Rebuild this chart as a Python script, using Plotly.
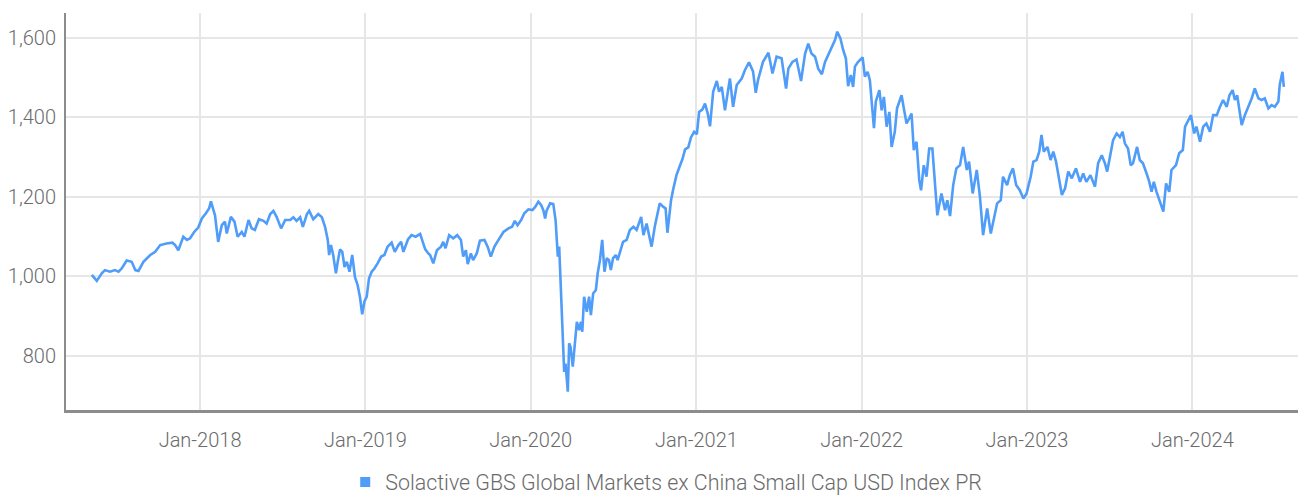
import plotly.graph_objects as go

series_name = "Solactive GBS Global Markets ex China Small Cap USD Index PR"

dates = [
"2017-05-07","2017-05-18","2017-05-29","2017-06-05","2017-06-16","2017-06-27","2017-07-05","2017-07-12","2017-07-23","2017-08-03",
"2017-08-11","2017-08-18","2017-08-29","2017-09-13","2017-09-24","2017-10-05","2017-10-19","2017-11-01","2017-11-07","2017-11-14",
"2017-11-25","2017-12-03","2017-12-10","2017-12-19","2017-12-28","2018-01-05","2018-01-14","2018-01-21","2018-01-25","2018-02-03",
"2018-02-10","2018-02-18","2018-02-25","2018-03-01","2018-03-10","2018-03-18","2018-03-25","2018-04-03","2018-04-09","2018-04-18",
"2018-04-25","2018-05-02","2018-05-11","2018-05-21","2018-05-28","2018-06-05","2018-06-12","2018-06-19","2018-06-29","2018-07-08",
"2018-07-19","2018-07-26","2018-08-02","2018-08-10","2018-08-16","2018-08-25","2018-08-30","2018-09-08","2018-09-19","2018-09-27",
"2018-10-04","2018-10-10","2018-10-13","2018-10-17","2018-10-22","2018-10-28","2018-11-01","2018-11-06","2018-11-11","2018-11-16",
"2018-11-21","2018-11-27","2018-12-03","2018-12-09","2018-12-15","2018-12-20","2018-12-25","2018-12-30","2019-01-04","2019-01-09",
"2019-01-15","2019-01-21","2019-01-28","2019-02-05","2019-02-12","2019-02-19","2019-02-28","2019-03-07","2019-03-15","2019-03-21",
"2019-03-26","2019-04-05","2019-04-13","2019-04-22","2019-05-02","2019-05-07","2019-05-13","2019-05-20","2019-05-24","2019-05-31",
"2019-06-08","2019-06-17","2019-06-22","2019-06-27","2019-07-05","2019-07-14","2019-07-23","2019-07-31","2019-08-05","2019-08-11",
"2019-08-15","2019-08-22","2019-08-27","2019-09-04","2019-09-11","2019-09-21","2019-09-28","2019-10-05","2019-10-13","2019-10-22",
"2019-11-02","2019-11-13","2019-11-21","2019-11-27","2019-12-03","2019-12-11","2019-12-18","2019-12-27","2020-01-05","2020-01-11",
"2020-01-18","2020-01-24","2020-01-29","2020-02-02","2020-02-05","2020-02-13","2020-02-20","2020-02-25","2020-03-01","2020-03-04",
"2020-03-08","2020-03-12","2020-03-15","2020-03-18","2020-03-23","2020-03-26","2020-03-29","2020-04-03","2020-04-08","2020-04-12",
"2020-04-17","2020-04-21","2020-04-24","2020-04-28","2020-05-04","2020-05-09","2020-05-13","2020-05-18","2020-05-24","2020-05-28",
"2020-06-02","2020-06-07","2020-06-12","2020-06-17","2020-06-22","2020-06-26","2020-07-01","2020-07-07","2020-07-11","2020-07-16",
"2020-07-23","2020-07-31","2020-08-07","2020-08-15","2020-08-22","2020-09-01","2020-09-06","2020-09-13","2020-09-18","2020-09-24",
"2020-10-01","2020-10-12","2020-10-20","2020-10-25","2020-10-29","2020-11-06","2020-11-11","2020-11-18","2020-11-26","2020-12-01",
"2020-12-07","2020-12-14","2020-12-20","2020-12-27","2021-01-02","2021-01-07","2021-01-14","2021-01-20","2021-01-26","2021-01-31",
"2021-02-07","2021-02-15","2021-02-20","2021-02-26","2021-03-05","2021-03-11","2021-03-16","2021-03-23","2021-03-31","2021-04-11",
"2021-04-18","2021-04-27","2021-05-06","2021-05-12","2021-05-17","2021-05-28","2021-06-09","2021-06-18","2021-06-27","2021-07-08",
"2021-07-18","2021-07-23","2021-08-01","2021-08-10","2021-08-20","2021-08-29","2021-09-05","2021-09-12","2021-09-20","2021-09-27",
"2021-10-05","2021-10-12","2021-10-19","2021-10-27","2021-11-03","2021-11-08","2021-11-15","2021-11-21","2021-11-27","2021-12-02",
"2021-12-08","2021-12-13","2021-12-17","2021-12-24","2022-01-03","2022-01-08","2022-01-14","2022-01-19","2022-01-25","2022-01-28",
"2022-02-01","2022-02-09","2022-02-14","2022-02-19","2022-02-25","2022-03-03","2022-03-08","2022-03-15","2022-03-20","2022-03-30",
"2022-04-04","2022-04-10","2022-04-16","2022-04-21","2022-04-26","2022-05-02","2022-05-08","2022-05-12","2022-05-18","2022-05-24",
"2022-05-30","2022-06-06","2022-06-17","2022-06-26","2022-07-04","2022-07-09","2022-07-15","2022-07-22","2022-07-29","2022-08-06",
"2022-08-13","2022-08-21","2022-08-26","2022-09-03","2022-09-12","2022-09-19","2022-09-26","2022-10-05","2022-10-13","2022-10-20",
"2022-10-27","2022-11-04","2022-11-09","2022-11-18","2022-11-24","2022-12-01","2022-12-08","2022-12-16","2022-12-24","2022-12-31",
"2023-01-09","2023-01-15","2023-01-22","2023-01-28","2023-02-02","2023-02-07","2023-02-15","2023-02-22","2023-02-28","2023-03-06",
"2023-03-13","2023-03-19","2023-03-26","2023-04-02","2023-04-10","2023-04-19","2023-04-28","2023-05-05","2023-05-12","2023-05-21",
"2023-05-31","2023-06-07","2023-06-15","2023-06-22","2023-06-27","2023-07-04","2023-07-10","2023-07-18","2023-07-25","2023-07-31",
"2023-08-05","2023-08-12","2023-08-18","2023-08-23","2023-09-01","2023-09-07","2023-09-14","2023-09-22","2023-09-28","2023-10-03",
"2023-10-08","2023-10-14","2023-10-20","2023-10-29","2023-11-04","2023-11-11","2023-11-16","2023-11-26","2023-12-03","2023-12-11",
"2023-12-16","2023-12-23","2023-12-29","2024-01-05","2024-01-10","2024-01-18","2024-01-25","2024-02-01","2024-02-09","2024-02-16",
"2024-02-24","2024-03-02","2024-03-09","2024-03-17","2024-03-23","2024-03-30","2024-04-04","2024-04-09","2024-04-15","2024-04-19",
"2024-04-26","2024-05-04","2024-05-11","2024-05-18","2024-05-26","2024-06-02","2024-06-09","2024-06-17","2024-06-24","2024-07-01",
"2024-07-09","2024-07-12","2024-07-18","2024-07-21",
]

values = [
1003,988,1007,1015,1011,1015,1011,1019,1039,1036,
1015,1013,1036,1053,1061,1078,1082,1084,1078,1065,
1099,1091,1095,1111,1122,1145,1158,1170,1188,1153,
1086,1128,1137,1107,1149,1137,1099,1111,1099,1141,
1120,1116,1143,1139,1132,1156,1164,1149,1120,1141,
1141,1148,1139,1148,1124,1156,1164,1143,1156,1148,
1124,1091,1053,1078,1053,1007,1036,1067,1061,1023,
1036,1011,1053,998,977,948,904,936,948,994,
1011,1019,1032,1049,1053,1074,1084,1061,1078,1086,
1061,1092,1103,1099,1106,1091,1068,1057,1053,1032,
1065,1074,1086,1070,1103,1095,1103,1091,1049,1065,
1030,1057,1040,1057,1089,1091,1074,1049,1074,1091,
1111,1120,1124,1139,1128,1141,1158,1168,1166,1174,
1187,1179,1166,1145,1164,1183,1181,1141,1049,1074,
956,822,759,780,709,831,822,772,839,885,
864,885,860,948,910,948,902,956,965,1007,
1040,1091,1011,1045,1040,1015,1045,1053,1040,1061,
1086,1091,1116,1124,1116,1149,1103,1132,1103,1074,
1124,1183,1174,1170,1109,1191,1220,1254,1279,1294,
1319,1324,1349,1363,1357,1413,1419,1434,1409,1377,
1464,1491,1464,1476,1417,1468,1497,1426,1481,1497,
1518,1538,1515,1461,1493,1539,1562,1510,1552,1548,
1472,1522,1539,1545,1491,1560,1585,1560,1552,1522,
1508,1539,1556,1573,1594,1615,1598,1569,1548,1478,
1506,1476,1527,1539,1550,1502,1514,1493,1413,1372,
1439,1468,1417,1451,1376,1413,1325,1363,1422,1455,
1422,1384,1397,1409,1317,1338,1242,1216,1279,1250,
1321,1321,1153,1208,1166,1191,1151,1229,1271,1279,
1325,1267,1288,1208,1267,1200,1103,1170,1107,1145,
1183,1191,1250,1229,1254,1271,1229,1216,1195,1208,
1250,1288,1292,1313,1355,1313,1325,1292,1313,1288,
1237,1204,1221,1263,1246,1271,1237,1258,1237,1254,
1225,1284,1304,1284,1263,1309,1342,1359,1350,1363,
1334,1321,1279,1284,1325,1292,1284,1258,1237,1212,
1237,1212,1191,1162,1233,1212,1267,1279,1309,1317,
1376,1393,1405,1359,1376,1338,1376,1384,1363,1405,
1405,1426,1443,1426,1455,1468,1443,1455,1405,1380,
1405,1426,1447,1472,1447,1443,1447,1422,1430,1426,
1439,1481,1514,1476,
]

y_ticks = [800, 1000, 1200, 1400, 1600]
x_range = ["2017-03-11", "2024-09-08"]
y_range = [663, 1662]

line_color = "#4f9cf9"
font_family = "Roboto, 'Noto Sans', sans-serif"
text_color = "#6b6b6b"

fig = go.Figure()
fig.add_trace(go.Scatter(
    x=dates, y=values, mode="lines", name=series_name,
    line=dict(color=line_color, width=2.6), showlegend=False,
))
fig.add_trace(go.Scatter(
    x=[None], y=[None], mode="markers", name=series_name,
    marker=dict(symbol="square", size=10, color=line_color),
    showlegend=True,
))

# the page body adds an 8px offset, so margins are reduced accordingly
fig.update_layout(
    width=1306, height=496,
    margin=dict(l=58, r=8, t=5, b=94, autoexpand=False),
    paper_bgcolor="white", plot_bgcolor="white",
    font=dict(family=font_family, color=text_color, size=20, weight=300),
    legend=dict(orientation="h", xref="container", yref="container",
                x=0.504, y=0.044, xanchor="center", yanchor="middle",
                font=dict(size=21.4, color=text_color, weight=300),
                itemwidth=30, tracegroupgap=0),
    hovermode=False,
)
fig.update_xaxes(
    type="date", range=x_range, automargin=False,
    tick0="2018-01-01", dtick="M12", tickformat="%b-%Y",
    showgrid=True, gridcolor="#e6e6e6", gridwidth=2,
    showline=True, linecolor="#8c8c8c", linewidth=3,
    ticks="outside", ticklen=10, tickcolor="rgba(0,0,0,0)",
    zeroline=False, tickfont=dict(size=20, color=text_color, weight=300),
)
fig.update_yaxes(
    range=y_range, tickvals=y_ticks, tickformat=",", automargin=False,
    showgrid=True, gridcolor="#e6e6e6", gridwidth=2,
    showline=True, linecolor="#8c8c8c", linewidth=2,
    ticks="outside", ticklen=4, tickcolor="rgba(0,0,0,0)",
    zeroline=False, tickfont=dict(size=20, color=text_color, weight=300),
)

fig.write_html("out.html")
